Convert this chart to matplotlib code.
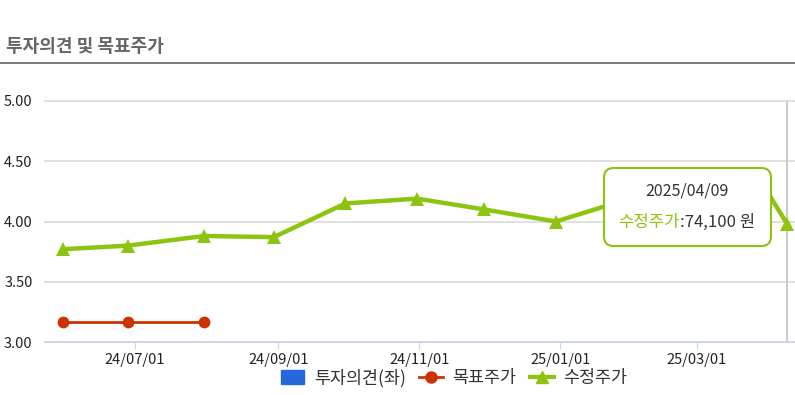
import numpy as np
import pandas as pd
import matplotlib
matplotlib.use('Agg')
import matplotlib.pyplot as plt
import matplotlib.dates as mdates
from matplotlib.patches import FancyBboxPatch
from matplotlib.lines import Line2D
from matplotlib.patches import Patch

plt.rcParams['font.family'] = ['Noto Sans CJK KR', 'DejaVu Sans']

# 수정주가 (월말 기준)
price_dates = ['2024-05-31', '2024-06-28', '2024-07-31', '2024-08-30', '2024-09-30',
               '2024-10-31', '2024-11-29', '2024-12-30', '2025-01-31', '2025-02-28',
               '2025-03-31', '2025-04-09']
price_vals = [3.77, 3.80, 3.88, 3.87, 4.15, 4.19, 4.10, 4.00, 4.19, 4.22, 4.26, 3.98]

# 목표주가
target_dates = ['2024-05-31', '2024-06-28', '2024-07-31']
target_vals = [3.165, 3.165, 3.165]

tick_dates = ['2024-07-01', '2024-09-01', '2024-11-01', '2025-01-01', '2025-03-01']
tick_labels = ['24/07/01', '24/09/01', '24/11/01', '25/01/01', '25/03/01']
yticks = [3.0, 3.5, 4.0, 4.5, 5.0]

tooltip_date = '2025/04/09'
tooltip_value = ':74,100 원'

green = '#8cc410'
red = '#cc3300'
blue = '#2468dc'

W, H = 795, 395
fig = plt.figure(figsize=(W / 100, H / 100), dpi=100)

# axes placed in pixel terms
ax = fig.add_axes([45 / W, (H - 342) / H, 750 / W, 241 / H])

pd_price = pd.to_datetime(price_dates)
pd_target = pd.to_datetime(target_dates)

ax.plot(pd_price, price_vals, color=green, lw=3.2, marker='^', ms=10,
        markeredgewidth=0, zorder=4, solid_capstyle='round')
ax.plot(pd_target, target_vals, color=red, lw=2, marker='o', ms=8.5,
        markeredgewidth=0, zorder=4)

x0 = mdates.date2num(pd.Timestamp('2024-05-23 02:00'))
x1 = mdates.date2num(pd.Timestamp('2025-04-12 10:00'))
ax.set_xlim(x0, x1)
ax.set_ylim(3.0, 5.0)

ax.set_xticks(pd.to_datetime(tick_dates))
ax.set_xticklabels(tick_labels)
ax.set_yticks(yticks)
ax.set_yticklabels(['%.2f' % v for v in yticks])

ax.grid(axis='y', color='#e0e0e0', lw=1.4)
for gl in ax.get_ygridlines():
    gl.set_clip_on(False)
ax.set_axisbelow(True)
for s in ['top', 'right', 'left']:
    ax.spines[s].set_visible(False)
ax.spines['bottom'].set_color('#ccd6eb')
ax.spines['bottom'].set_linewidth(1.3)
ax.spines['bottom'].set_zorder(3)
ax.tick_params(axis='x', length=5, color='#ccd6eb', labelsize=10.5, pad=3, labelcolor='#222222')
ax.tick_params(axis='y', length=0, labelsize=10.5, pad=9, labelcolor='#222222')

# crosshair at hovered point
ax.axvline(pd_price[-1], color='#cccccc', lw=1.5, zorder=2)

# title + separator line
fig.text(6 / W, 1 - 46 / H, '투자의견 및 목표주가', fontsize=13, fontweight='bold',
         color='#666666', va='center', ha='left')
fig.add_artist(Line2D([0, 1], [1 - 63 / H, 1 - 63 / H], color='#666666', lw=1.2,
                      transform=fig.transFigure))

# tooltip
bx, by, bw, bh = 604, 168, 167, 78
box = FancyBboxPatch((bx / W, 1 - (by + bh) / H), bw / W, bh / H,
                     boxstyle='round,pad=0,rounding_size=0.012',
                     transform=fig.transFigure, facecolor='white',
                     edgecolor=green, lw=1.5, zorder=10,
                     mutation_aspect=W / H)
fig.add_artist(box)
fig.text((bx + bw / 2) / W, 1 - 191 / H, tooltip_date, fontsize=11.5, color='#333333',
         ha='center', va='center', zorder=11)
fig.text(680 / W, 1 - 222 / H, '수정주가', fontsize=12, color=green,
         ha='right', va='center', zorder=11)
fig.text(680 / W, 1 - 222 / H, tooltip_value, fontsize=12, color='#333333',
         ha='left', va='center', zorder=11)

# legend
handles = [
    Patch(facecolor=blue, edgecolor=blue),
    Line2D([], [], color=red, lw=2, marker='o', ms=8),
    Line2D([], [], color=green, lw=3, marker='^', ms=9),
]
labels = ['투자의견(좌)', '목표주가', '수정주가']
fig.legend(handles, labels, loc='center', bbox_to_anchor=(454 / W, 1 - 378 / H),
           ncol=3, frameon=False, fontsize=12.5, handlelength=1.35,
           handleheight=0.9, handletextpad=0.55, columnspacing=0.8,
           labelcolor='#333333')

fig.savefig('out.png', dpi=100)
